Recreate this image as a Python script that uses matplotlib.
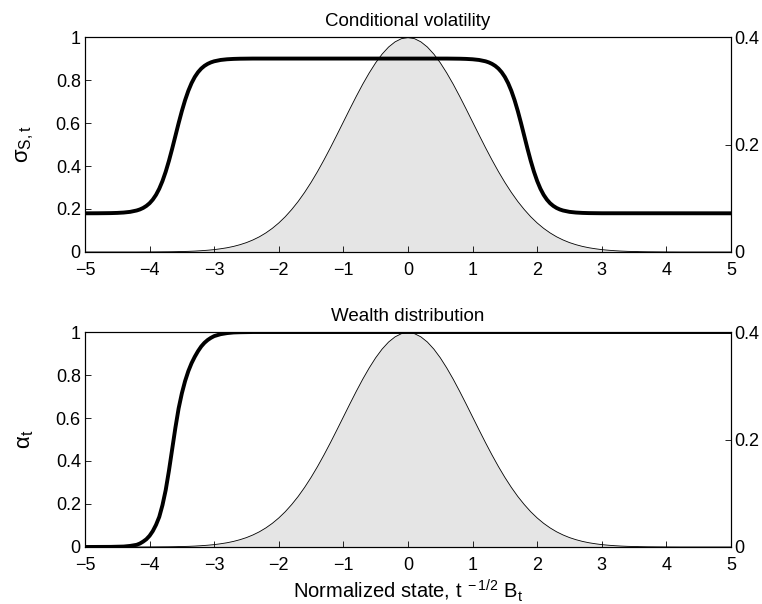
import matplotlib
matplotlib.use("Agg")
import matplotlib.pyplot as plt
import numpy as np

plt.rcParams['font.family'] = ['Liberation Sans', 'DejaVu Sans']
plt.rcParams['mathtext.fontset'] = 'custom'
plt.rcParams['mathtext.rm'] = 'Liberation Sans'
plt.rcParams['mathtext.it'] = 'Liberation Sans'
plt.rcParams['mathtext.default'] = 'regular'

########## Data

## Normal density (right axis)
dens_x = [-5.0, -4.2, -4.0, -3.9, -3.8, -3.7, -3.6, -3.5, -3.4, -3.3, -3.2, -3.1, -3.0, -2.9, -2.8, -2.7, -2.6,
          -2.5, -2.4, -2.3, -2.2, -2.1, -2.0, -1.9, -1.8, -1.7, -1.6, -1.5, -1.4, -1.3, -1.2, -1.1, -1.0,
          -0.9, -0.8, -0.7, -0.6, -0.5, -0.4, -0.3, -0.2, -0.1, 0.0, 0.1, 0.2, 0.3, 0.4, 0.5, 0.6, 0.7, 0.8,
          0.9, 1.0, 1.1, 1.2, 1.3, 1.4, 1.5, 1.6, 1.7, 1.8, 1.9, 2.0, 2.1, 2.2, 2.3, 2.4, 2.5, 2.6, 2.7,
          2.8, 2.9, 3.0, 3.1, 3.2, 3.3, 3.4, 3.5, 3.6, 3.7, 3.8, 3.9, 4.0, 4.2, 5.0]
dens_y = [0.0, 0.0, 0.0001, 0.0002, 0.0003, 0.0004, 0.0006, 0.0009, 0.0012, 0.0017, 0.0024, 0.0033, 0.0044, 0.006, 0.0079, 0.0104, 0.0136,
          0.0175, 0.0224, 0.0283, 0.0355, 0.044, 0.054, 0.0656, 0.079, 0.094, 0.1109, 0.1295, 0.1497, 0.1714, 0.1942, 0.2179, 0.242,
          0.2661, 0.2897, 0.3123, 0.3332, 0.3521, 0.3683, 0.3814, 0.391, 0.397, 0.3989, 0.397, 0.391, 0.3814, 0.3683, 0.3521, 0.3332, 0.3123, 0.2897,
          0.2661, 0.242, 0.2179, 0.1942, 0.1714, 0.1497, 0.1295, 0.1109, 0.094, 0.079, 0.0656, 0.054, 0.044, 0.0355, 0.0283, 0.0224, 0.0175, 0.0136, 0.0104,
          0.0079, 0.006, 0.0044, 0.0033, 0.0024, 0.0017, 0.0012, 0.0009, 0.0006, 0.0004, 0.0003, 0.0002, 0.0001, 0.0, 0.0]

## Conditional volatility sigma_{S,t}
vol_x = [-5.0, -4.8, -4.6, -4.5, -4.4, -4.3, -4.2, -4.15, -4.1, -4.05, -4.0, -3.95, -3.9, -3.85, -3.8, -3.75, -3.7, -3.65,
         -3.6, -3.55, -3.5, -3.45, -3.4, -3.35, -3.3, -3.25, -3.2, -3.15, -3.1, -3.05, -3.0, -2.9, -2.8, -2.7, -2.6, -2.4,
         0.6, 0.8, 0.9, 1.0, 1.1, 1.2, 1.25, 1.3, 1.35, 1.4, 1.45, 1.5, 1.55, 1.6, 1.65, 1.7, 1.75, 1.8,
         1.85, 1.9, 1.95, 2.0, 2.05, 2.1, 2.15, 2.2, 2.25, 2.3, 2.35, 2.4, 2.5, 2.6, 2.7, 2.8, 3.0, 5.0]
vol_y = [0.18, 0.1802, 0.1809, 0.1818, 0.1835, 0.1867, 0.193, 0.1979, 0.2048, 0.2142, 0.2267, 0.2437, 0.2658, 0.2944, 0.3302, 0.3736, 0.4242, 0.4805,
         0.54, 0.5995, 0.6558, 0.7064, 0.7498, 0.7856, 0.8142, 0.8363, 0.8533, 0.8659, 0.8752, 0.8821, 0.8871, 0.8933, 0.8965, 0.8982, 0.8991, 0.8998,
         0.8998, 0.8991, 0.8982, 0.8965, 0.8933, 0.8871, 0.8821, 0.8752, 0.8659, 0.8533, 0.8363, 0.8142, 0.7856, 0.7498, 0.7064, 0.6558, 0.5995, 0.54,
         0.4805, 0.4242, 0.3736, 0.3302, 0.2944, 0.2658, 0.2437, 0.2267, 0.2142, 0.2048, 0.1979, 0.193, 0.1867, 0.1835, 0.1818, 0.1809, 0.1802, 0.18]

## Wealth distribution alpha_t
alpha_x = [-5.0, -4.6, -4.4, -4.3, -4.2, -4.15, -4.1, -4.05, -4.0, -3.95, -3.9, -3.85, -3.8, -3.75, -3.7, -3.65,
           -3.6, -3.55, -3.5, -3.45, -3.4, -3.35, -3.3, -3.25, -3.2, -3.15, -3.1, -3.05, -3.0, -2.9, -2.8, -2.7, -2.6, -2.4, 5.0]
alpha_y = [0.0, 0.0005, 0.002, 0.005, 0.01, 0.016, 0.025, 0.036, 0.052, 0.074, 0.103, 0.14, 0.195, 0.265, 0.355, 0.455,
           0.555, 0.645, 0.715, 0.772, 0.818, 0.855, 0.885, 0.911, 0.933, 0.95, 0.963, 0.973, 0.981, 0.99, 0.995, 0.998, 0.999, 1.0, 1.0]

x_ticks = [-5, -4, -3, -2, -1, 0, 1, 2, 3, 4, 5]
left_ticks = [0, 0.2, 0.4, 0.6, 0.8, 1]
left_labels = ["0", "0.2", "0.4", "0.6", "0.8", "1"]
right_ticks = [0, 0.2, 0.4]
right_labels = ["0", "0.2", "0.4"]

titles = ["Conditional volatility", "Wealth distribution"]
ylabels = [r"$\sigma_{S,t}$", r"$\alpha_t$"]
xlabel = r"Normalized state, t$^{\ -1/2}$ B$_t$"

########## Plot

fig = plt.figure(figsize=(7.62, 6.04), dpi=100)

ax_rects = [[0.1115, 0.5828, 0.8478, 0.3559],
            [0.1115, 0.0944, 0.8478, 0.3559]]
curves = [(vol_x, vol_y), (alpha_x, alpha_y)]

for i in range(2):
    ax = fig.add_axes(ax_rects[i])
    ax2 = ax.twinx()

    ## density on the right axis, drawn behind
    ax2.fill_between(dens_x, 0, dens_y, facecolor='#e5e5e5', edgecolor='none')
    ax2.plot(dens_x, dens_y, color='black', lw=0.6)
    ax2.set_ylim(0, 0.4)
    ax2.set_yticks(right_ticks)
    ax2.set_yticklabels(right_labels)

    ## thick curve on the left axis, on top
    ax.set_zorder(ax2.get_zorder() + 1)
    ax.patch.set_visible(False)
    ax.plot(curves[i][0], curves[i][1], color='black', lw=2.8, solid_joinstyle='round')
    ax.set_xlim(-5, 5)
    ax.set_ylim(0, 1)
    ax.set_xticks(x_ticks)
    ax.set_yticks(left_ticks)
    ax.set_yticklabels(left_labels)
    ax.set_title(titles[i], fontsize=13.5, pad=8)
    ax.set_ylabel(ylabels[i], fontsize=16, labelpad=14)

    ax.tick_params(axis='x', direction='in', length=4, width=0.6, labelsize=13, pad=7)
    ax.tick_params(axis='y', direction='in', length=4, width=0.6, labelsize=13, pad=3)
    ax2.tick_params(axis='y', direction='in', length=4, width=0.6, labelsize=13, pad=2)
    for a in (ax, ax2):
        for s in a.spines.values():
            s.set_linewidth(0.8)

    if i == 1:
        ax.set_xlabel(xlabel, fontsize=14.5, labelpad=3)

fig.savefig("out.png", dpi=100)
